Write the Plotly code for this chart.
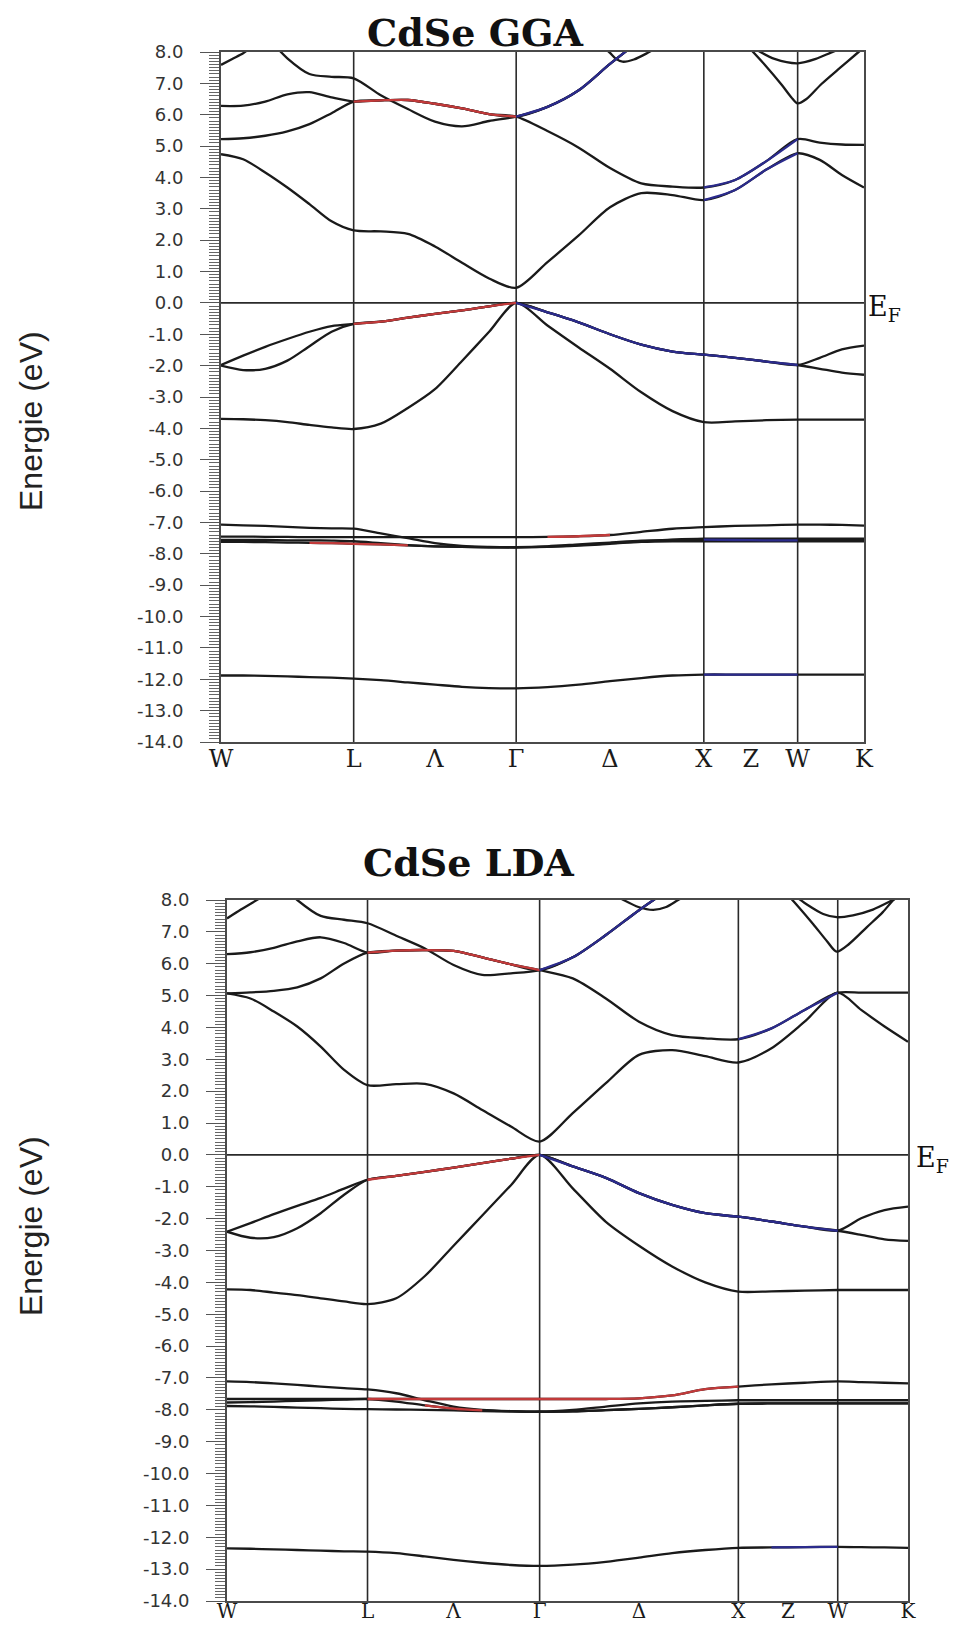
import plotly.graph_objects as go

# ---------------- k-path (W L Γ X W K) ----------------
K_NODES = [0.0, 0.7071, 1.5731, 2.5731, 3.0731, 3.4267]
K_GRID = [0.0, 0.1179, 0.2357, 0.3536, 0.4714, 0.5893, 0.7071,
          0.8514, 0.9958, 1.1401, 1.2844, 1.4288, 1.5731,
          1.7398, 1.9064, 2.0731, 2.2398, 2.4064, 2.5731,
          2.7398, 2.9064, 3.0731, 3.1910, 3.3088, 3.4267]
X_TICK_POS = [0.0, 0.7071, 1.1401, 1.5731, 2.0731, 2.5731, 2.8231, 3.0731, 3.4267]
X_TICK_LABELS = ["W", "L", "Λ", "Γ", "Δ", "X", "Z", "W", "K"]
Y_TICKS = [8, 7, 6, 5, 4, 3, 2, 1, 0, -1, -2, -3, -4, -5, -6, -7, -8, -9, -10, -11, -12, -13, -14]
Y_TICK_LABELS = ["8.0", "7.0", "6.0", "5.0", "4.0", "3.0", "2.0", "1.0", "0.0", "-1.0", "-2.0",
                 "-3.0", "-4.0", "-5.0", "-6.0", "-7.0", "-8.0", "-9.0", "-10.0", "-11.0",
                 "-12.0", "-13.0", "-14.0"]
N = None

# ---------------- CdSe GGA bands (eV) on K_GRID ----------------
GGA_C1 = [4.74, 4.58, 4.16, 3.68, 3.15, 2.60, 2.31, 2.28, 2.20, 1.80, 1.28, 0.78, 0.48,
          1.30, 2.15, 3.05, 3.50, 3.44, 3.28, 3.60, 4.25, 4.77, 4.56, 4.08, 3.68]
GGA_C2 = [5.22, 5.25, 5.33, 5.47, 5.70, 6.05, 6.42, 6.46, 6.47, 6.35, 6.20, 6.02, 5.94,
          5.48, 4.95, 4.30, 3.81, 3.71, 3.68, 3.92, 4.52, 5.22, 5.11, 5.05, 5.04]
GGA_C3 = [6.28, 6.29, 6.42, 6.65, 6.72, 6.55, 6.42, 6.46, 6.47, 6.35, 6.20, 6.02, 5.94,
          6.25, 6.78, 7.62, 8.40, N, N, N, N, N, N, N, N]
GGA_C4 = [N, N, 8.55, 7.80, 7.30, 7.21, 7.16, 6.62, 6.18, 5.78, 5.63, 5.80, 5.94,
          6.25, 6.78, 7.62, 8.40, N, N, N, N, N, N, N, N]
GGA_V1 = [-3.70, -3.71, -3.74, -3.80, -3.89, -3.97, -4.02, -3.85, -3.35, -2.75, -1.85, -0.92, 0.00,
          -0.72, -1.42, -2.10, -2.85, -3.45, -3.80, -3.78, -3.74, -3.72, -3.72, -3.72, -3.72]
GGA_V2 = [-2.00, -2.14, -2.10, -1.84, -1.38, -0.92, -0.67, -0.60, -0.47, -0.35, -0.24, -0.11, 0.00,
          -0.30, -0.62, -1.00, -1.33, -1.55, -1.65, -1.75, -1.87, -1.98, -2.10, -2.22, -2.29]
GGA_V3 = [-1.98, -1.68, -1.40, -1.15, -0.92, -0.74, -0.67, -0.60, -0.47, -0.35, -0.24, -0.11, 0.00,
          -0.30, -0.62, -1.00, -1.33, -1.55, -1.65, -1.75, -1.87, -1.98, -1.75, -1.48, -1.36]
GGA_D1 = [-7.07, -7.09, -7.11, -7.14, -7.17, -7.19, -7.20, -7.35, -7.50, -7.66, -7.75, -7.78, -7.79,
          -7.77, -7.72, -7.67, -7.60, -7.55, -7.52, -7.52, -7.52, -7.52, -7.52, -7.52, -7.52]
GGA_D2 = [-7.45, -7.45, -7.46, -7.46, -7.47, -7.47, -7.47, -7.47, -7.47, -7.47, -7.47, -7.47, -7.47,
          -7.46, -7.44, -7.40, -7.30, -7.20, -7.15, -7.11, -7.09, -7.07, -7.07, -7.08, -7.10]
GGA_D3 = [-7.56, -7.56, -7.56, -7.57, -7.57, -7.58, -7.60, -7.66, -7.72, -7.76, -7.78, -7.79, -7.79,
          -7.76, -7.70, -7.64, -7.58, -7.56, -7.55, -7.56, -7.57, -7.57, -7.57, -7.57, -7.57]
GGA_D4 = [-7.62, -7.62, -7.63, -7.64, -7.65, -7.66, -7.68, -7.70, -7.73, -7.76, -7.78, -7.79, -7.79,
          -7.78, -7.74, -7.68, -7.62, -7.60, -7.60, -7.60, -7.60, -7.60, -7.60, -7.60, -7.60]
GGA_S = [-11.88, -11.88, -11.89, -11.91, -11.93, -11.95, -11.98, -12.03, -12.10, -12.17, -12.24, -12.28, -12.29,
         -12.25, -12.17, -12.06, -11.96, -11.88, -11.85, -11.85, -11.85, -11.85, -11.85, -11.85, -11.85]
# small band pieces near the top edge (own k positions)
GGA_TL_K = [0.0, 0.06, 0.118, 0.17]
GGA_TL_E = [7.59, 7.78, 7.96, 8.20]
GGA_UD_K = [2.04, 2.073, 2.105, 2.14, 2.20, 2.27, 2.31]
GGA_UD_E = [8.15, 7.97, 7.78, 7.69, 7.76, 7.96, 8.10]
GGA_VW_K = [2.82, 2.90, 2.99, 3.04, 3.073, 3.12, 3.20, 3.30, 3.39, 3.43]
GGA_VW_E = [8.10, 7.58, 6.94, 6.55, 6.36, 6.50, 6.98, 7.50, 7.96, 8.16]
GGA_UW_K = [2.86, 2.95, 3.073, 3.17, 3.25, 3.30]
GGA_UW_E = [8.05, 7.78, 7.64, 7.78, 7.98, 8.10]

# ---------------- CdSe LDA bands (eV) on K_GRID ----------------
LDA_C1 = [5.07, 4.91, 4.50, 4.03, 3.40, 2.67, 2.19, 2.22, 2.23, 1.93, 1.41, 0.89, 0.42,
          1.31, 2.25, 3.14, 3.29, 3.10, 2.90, 3.35, 4.18, 5.09, 4.55, 4.03, 3.55]
LDA_C2 = [5.07, 5.10, 5.15, 5.26, 5.54, 6.01, 6.35, 6.41, 6.43, 6.40, 6.20, 5.98, 5.80,
          5.54, 4.91, 4.18, 3.76, 3.66, 3.63, 3.97, 4.55, 5.09, 5.09, 5.09, 5.09]
LDA_C3 = [6.30, 6.36, 6.50, 6.70, 6.83, 6.65, 6.35, 6.41, 6.43, 6.40, 6.20, 5.98, 5.80,
          6.20, 6.90, 7.68, 8.40, N, N, N, N, N, N, N, N]
LDA_C4 = [N, N, 8.70, 8.00, 7.50, 7.38, 7.27, 6.88, 6.48, 5.96, 5.65, 5.70, 5.80,
          6.20, 6.90, 7.68, 8.40, N, N, N, N, N, N, N, N]
LDA_V1 = [-4.22, -4.24, -4.32, -4.40, -4.50, -4.60, -4.68, -4.50, -3.80, -2.85, -1.90, -0.95, 0.00,
          -1.05, -2.10, -2.85, -3.50, -4.00, -4.29, -4.28, -4.26, -4.24, -4.24, -4.24, -4.24]
LDA_V2 = [-2.41, -2.60, -2.58, -2.30, -1.83, -1.25, -0.78, -0.66, -0.53, -0.40, -0.26, -0.12, 0.00,
          -0.36, -0.72, -1.20, -1.57, -1.83, -1.94, -2.09, -2.25, -2.38, -2.51, -2.65, -2.70]
LDA_V3 = [-2.41, -2.14, -1.86, -1.60, -1.35, -1.06, -0.78, -0.66, -0.53, -0.40, -0.26, -0.12, 0.00,
          -0.36, -0.72, -1.20, -1.57, -1.83, -1.94, -2.09, -2.25, -2.38, -1.99, -1.73, -1.62]
LDA_D1 = [-7.11, -7.13, -7.17, -7.22, -7.27, -7.32, -7.36, -7.48, -7.70, -7.90, -8.00, -8.04, -8.06,
          -8.05, -8.01, -7.97, -7.92, -7.86, -7.81, -7.80, -7.80, -7.80, -7.80, -7.80, -7.80]
LDA_D2 = [-7.66, -7.66, -7.66, -7.66, -7.66, -7.66, -7.66, -7.66, -7.66, -7.66, -7.66, -7.66, -7.66,
          -7.66, -7.66, -7.64, -7.55, -7.35, -7.27, -7.20, -7.15, -7.11, -7.13, -7.15, -7.17]
LDA_D3 = [-7.77, -7.76, -7.74, -7.72, -7.70, -7.68, -7.66, -7.74, -7.86, -7.96, -8.02, -8.05, -8.06,
          -8.00, -7.90, -7.80, -7.74, -7.72, -7.70, -7.70, -7.70, -7.70, -7.70, -7.70, -7.70]
LDA_D4 = [-7.88, -7.89, -7.91, -7.93, -7.95, -7.97, -7.98, -7.99, -8.00, -8.02, -8.04, -8.05, -8.06,
          -8.05, -8.01, -7.97, -7.92, -7.86, -7.81, -7.80, -7.80, -7.80, -7.80, -7.80, -7.80]
LDA_S = [-12.35, -12.36, -12.38, -12.40, -12.42, -12.44, -12.45, -12.50, -12.60, -12.71, -12.80, -12.87, -12.90,
         -12.86, -12.77, -12.64, -12.50, -12.40, -12.33, -12.32, -12.31, -12.30, -12.31, -12.32, -12.33]
LDA_TL_K = [0.0, 0.07, 0.15, 0.19]
LDA_TL_E = [7.42, 7.70, 8.00, 8.15]
LDA_UD_K = [1.96, 1.995, 2.07, 2.145, 2.21, 2.27, 2.30]
LDA_UD_E = [8.12, 8.00, 7.78, 7.69, 7.78, 8.00, 8.10]
LDA_VW_K = [2.83, 2.875, 2.95, 3.02, 3.068, 3.13, 3.22, 3.30, 3.353, 3.40]
LDA_VW_E = [8.10, 7.79, 7.24, 6.70, 6.38, 6.62, 7.15, 7.62, 8.00, 8.25]
LDA_UW_K = [2.86, 2.92, 3.00, 3.068, 3.15, 3.25, 3.35, 3.40]
LDA_UW_E = [8.12, 7.85, 7.56, 7.46, 7.52, 7.70, 8.00, 8.15]

GGA_BANDS = {"C1": GGA_C1, "C2": GGA_C2, "C3": GGA_C3, "C4": GGA_C4, "V1": GGA_V1, "V2": GGA_V2,
             "V3": GGA_V3, "D1": GGA_D1, "D2": GGA_D2, "D3": GGA_D3, "D4": GGA_D4, "S": GGA_S}
LDA_BANDS = {"C1": LDA_C1, "C2": LDA_C2, "C3": LDA_C3, "C4": LDA_C4, "V1": LDA_V1, "V2": LDA_V2,
             "V3": LDA_V3, "D1": LDA_D1, "D2": LDA_D2, "D3": LDA_D3, "D4": LDA_D4, "S": LDA_S}
GGA_PIECES = [(GGA_TL_K, GGA_TL_E), (GGA_UD_K, GGA_UD_E), (GGA_VW_K, GGA_VW_E), (GGA_UW_K, GGA_UW_E)]
LDA_PIECES = [(LDA_TL_K, LDA_TL_E), (LDA_UD_K, LDA_UD_E), (LDA_VW_K, LDA_VW_E), (LDA_UW_K, LDA_UW_E)]

# ---------------- styles ----------------
BLACK = "#1a1a1a"
RED = "#c23a3a"
BLUE = "#2b2b8c"
GGA_COLOR_SEGS = [("C2", 6, 12, RED), ("V2", 6, 12, RED), ("D4", 4, 8, RED), ("D2", 13, 15, RED),
                  ("C3", 12, 16, BLUE), ("V3", 12, 21, BLUE), ("C1", 18, 21, BLUE), ("C2", 18, 21, BLUE),
                  ("S", 18, 21, BLUE), ("D3", 18, 21, BLUE)]
LDA_COLOR_SEGS = [("C2", 6, 12, RED), ("V2", 6, 12, RED), ("D2", 6, 18, RED), ("D3", 8, 10, RED),
                  ("C3", 12, 16, BLUE), ("V3", 12, 21, BLUE), ("C2", 18, 21, BLUE), ("S", 19, 21, BLUE)]

W_PX, H_PX = 965, 1628
OFF = 8  # page body offset of the figure div
fig = go.Figure()


def fx(px):
    return (px - OFF) / W_PX


def fy(px):
    return 1 - (px - OFF) / H_PX


def add_line(k, e, xa, ya, color, width=2.3):
    fig.add_trace(go.Scatter(x=k, y=e, mode="lines",
                             line=dict(color=color, width=width, shape="spline", smoothing=0.8),
                             xaxis=xa, yaxis=ya, hoverinfo="skip", showlegend=False))


for bands, pieces, segs, xa, ya in [(GGA_BANDS, GGA_PIECES, GGA_COLOR_SEGS, "x", "y"),
                                    (LDA_BANDS, LDA_PIECES, LDA_COLOR_SEGS, "x2", "y2")]:
    for name, e in bands.items():
        add_line(K_GRID, e, xa, ya, BLACK)
    for k, e in pieces:
        add_line(k, e, xa, ya, BLACK)
    for name, i0, i1, col in segs:
        add_line(K_GRID[i0:i1 + 1], bands[name][i0:i1 + 1], xa, ya, col)

axis_line = "#4a4a4a"
xaxis_common = dict(range=[K_NODES[0], K_NODES[-1]], tickmode="array", tickvals=X_TICK_POS,
                    ticktext=X_TICK_LABELS, ticks="", showline=True, mirror=True,
                    linecolor=axis_line, linewidth=1.8, showgrid=False, zeroline=False,
                    automargin=False, fixedrange=True)
yaxis_common = dict(range=[-14, 8], tickmode="array", tickvals=Y_TICKS, ticktext=Y_TICK_LABELS,
                    ticks="outside", ticklen=19, tickwidth=1.4, tickcolor="#555",
                    minor=dict(ticks="outside", ticklen=10, tickwidth=1, tickcolor="#666",
                               tickmode="linear", tick0=0, dtick=0.1, showgrid=False),
                    showline=True, mirror=True, linecolor=axis_line, linewidth=1.8,
                    showgrid=False, zeroline=False, ticklabelstandoff=13, automargin=False,
                    tickfont=dict(family="DejaVu Sans", size=18, color="#333"), fixedrange=True)

# panel frames in screen pixels
TOP = dict(l=221, r=864, t=52, b=742)
BOT = dict(l=227, r=908, t=900, b=1601)

fig.update_layout(
    width=W_PX, height=H_PX, autosize=False,
    margin=dict(l=0, r=0, t=0, b=0, pad=0, autoexpand=False),
    paper_bgcolor="white", plot_bgcolor="white", showlegend=False,
    xaxis=dict(domain=[fx(TOP["l"]), fx(TOP["r"])], anchor="y",
               tickfont=dict(family="DejaVu Serif", size=24, color="#1a1a1a"),
               ticklabelstandoff=-6, **xaxis_common),
    yaxis=dict(domain=[fy(TOP["b"]), fy(TOP["t"])], anchor="x", **yaxis_common),
    xaxis2=dict(domain=[fx(BOT["l"]), fx(BOT["r"])], anchor="y2",
                tickfont=dict(family="DejaVu Serif", size=20, color="#1a1a1a"),
                ticklabelstandoff=-9, **xaxis_common),
    yaxis2=dict(domain=[fy(BOT["b"]), fy(BOT["t"])], anchor="x2", **yaxis_common),
)

shapes = []
for xa, ya in [("x", "y"), ("x2", "y2")]:
    for kx in K_NODES[1:-1]:
        shapes.append(dict(type="line", xref=xa, yref=ya + " domain", x0=kx, x1=kx, y0=0, y1=1,
                           line=dict(color="#2a2a2a", width=1.6), layer="below"))
    shapes.append(dict(type="line", xref=xa + " domain", yref=ya, x0=0, x1=1, y0=0, y1=0,
                       line=dict(color="#2a2a2a", width=1.6), layer="below"))
fig.update_layout(shapes=shapes)

ann = []
title_font = dict(family="DejaVu Serif", size=38, color="#111")
ann.append(dict(text="<b>CdSe GGA</b>", x=fx(475), y=fy(33), xref="paper", yref="paper",
                showarrow=False, xanchor="center", yanchor="middle", font=title_font))
ann.append(dict(text="<b>CdSe LDA</b>", x=fx(468), y=fy(862), xref="paper", yref="paper",
                showarrow=False, xanchor="center", yanchor="middle", font=title_font))
ylab_font = dict(family="Liberation Sans", size=32, color="#222")
for yc in (421, 1226):
    ann.append(dict(text="Energie (eV)", x=fx(31), y=fy(yc), xref="paper", yref="paper",
                    showarrow=False, textangle=-90, xanchor="center", yanchor="middle", font=ylab_font))
ef_font = dict(family="DejaVu Serif", size=27, color="#111")
ann.append(dict(text="E<sub>F</sub>", x=fx(866), y=fy(308), xref="paper", yref="paper",
                showarrow=False, xanchor="left", yanchor="middle", font=ef_font))
ann.append(dict(text="E<sub>F</sub>", x=fx(914), y=fy(1159), xref="paper", yref="paper",
                showarrow=False, xanchor="left", yanchor="middle", font=ef_font))
fig.update_layout(annotations=ann)

fig.write_html("out.html")
